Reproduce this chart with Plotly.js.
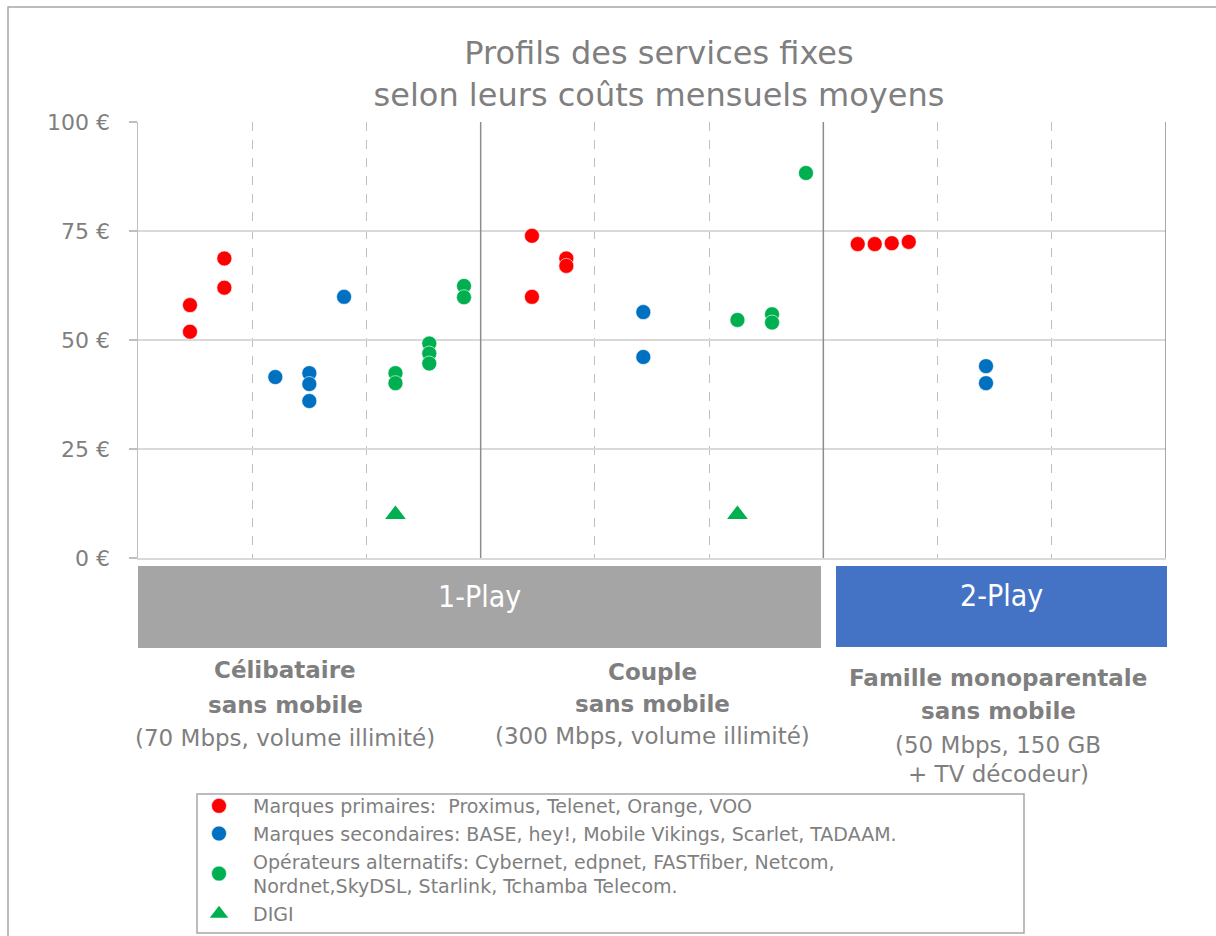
<!DOCTYPE html>
<html>
<head>
<meta charset="utf-8">
<script src="https://cdn.plot.ly/plotly-3.0.1.min.js"></script>
<style>
  html, body { margin: 0; padding: 0; background: #ffffff; }
  #chart { width: 1216px; height: 936px; }
</style>
</head>
<body>
<div id="chart"></div>
<script>
// ---- Data ----
// x = position within the 9 columns (3 per profile), y = monthly cost in €
const primX = [0.455, 0.455, 0.756, 0.756, 3.449, 3.449, 3.750, 3.750, 6.301, 6.450, 6.599, 6.748];
const primY = [58.0, 51.9, 68.7, 62.0, 73.9, 59.9, 68.7, 67.0, 72.0, 72.0, 72.2, 72.5];

const secX = [1.202, 1.500, 1.500, 1.500, 1.804, 4.424, 4.424, 7.424, 7.424];
const secY = [41.5, 42.4, 39.9, 36.0, 59.9, 56.4, 46.1, 44.0, 40.1];

const altX = [2.254, 2.254, 2.550, 2.550, 2.550, 2.854, 2.854, 5.248, 5.551, 5.551, 5.848];
const altY = [42.4, 40.1, 49.2, 46.9, 44.6, 62.4, 59.8, 54.6, 55.9, 54.0, 88.3];

const digiX = [2.254, 5.248];
const digiY = [10.0, 10.0];

const seriesNames = [
  "Marques primaires:  Proximus, Telenet, Orange, VOO",
  "Marques secondaires: BASE, hey!, Mobile Vikings, Scarlet, TADAAM.",
  "Opérateurs alternatifs: Cybernet, edpnet, FASTfiber, Netcom,<br>Nordnet,SkyDSL, Starlink, Tchamba Telecom.",
  "DIGI"
];

const yTickVals = [0, 25, 50, 75, 100];
const yTickText = ["0 €", "25 €", "50 €", "75 €", "100 €"];

const dashedCols = [1, 2, 4, 5, 7, 8];
const profileBounds = [3, 6, 9];

const playLabels = ["1-Play", "2-Play"];

const profileLabels = [
  ["<b>Célibataire</b>", "<b>sans mobile</b>", "(70 Mbps, volume illimité)"],
  ["<b>Couple</b>", "<b>sans mobile</b>", "(300 Mbps, volume illimité)"],
  ["<b>Famille monoparentale</b>", "<b>sans mobile</b>", "(50 Mbps, 150 GB", "+ TV décodeur)"]
];

const titleText = "Profils des services fixes<br>selon leurs coûts mensuels moyens";

// ---- Layout helpers (pixel -> paper) ----
const W = 1216, H = 936;
const L = 138, R = 1166, T = 122, B = 558;
const px = v => (v - L) / (R - L);
const py = v => (B - v) / (B - T);

const GREY_TXT = "#7f7f7f";
const FONT = "DejaVu Sans, Verdana, sans-serif";

const markerLine = { color: "#ffffff", width: 0.6 };

const traces = [
  { type: "scatter", mode: "markers", x: primX, y: primY, name: seriesNames[0],
    marker: { color: "#ff0000", size: 15, symbol: "circle", line: markerLine } },
  { type: "scatter", mode: "markers", x: secX, y: secY, name: seriesNames[1],
    marker: { color: "#0070c0", size: 15, symbol: "circle", line: markerLine } },
  { type: "scatter", mode: "markers", x: altX, y: altY, name: seriesNames[2],
    marker: { color: "#00b050", size: 15, symbol: "circle", line: markerLine } },
  { type: "scatter", mode: "markers", x: digiX, y: digiY, name: seriesNames[3],
    marker: { color: "#00b050", size: 18, symbol: "triangle-up", line: { width: 0 } } }
];

const shapes = [];
// outer frame
shapes.push({ type: "rect", xref: "paper", yref: "paper",
  x0: px(8), x1: px(1230), y0: py(950), y1: py(7),
  line: { color: "#a6a6a6", width: 1.5 }, fillcolor: "rgba(0,0,0,0)" });
// solid profile separators
profileBounds.forEach(b => shapes.push({ type: "line", xref: "x", yref: "paper",
  x0: b, x1: b, y0: 0, y1: 1, line: { color: "#8c8c8c", width: 1.5 } }));
// play bars
shapes.push({ type: "rect", xref: "paper", yref: "paper",
  x0: px(138), x1: px(821), y0: py(648), y1: py(566),
  line: { width: 0 }, fillcolor: "#a5a5a5" });
shapes.push({ type: "rect", xref: "paper", yref: "paper",
  x0: px(836), x1: px(1167), y0: py(647), y1: py(566),
  line: { width: 0 }, fillcolor: "#4472c4" });
// legend box
shapes.push({ type: "rect", xref: "paper", yref: "paper",
  x0: px(197), x1: px(1024), y0: py(933), y1: py(794),
  line: { color: "#a6a6a6", width: 1.5 }, fillcolor: "rgba(0,0,0,0)" });

const annotations = [];
annotations.push({ xref: "paper", yref: "paper", x: px(479), y: py(596), text: playLabels[0],
  showarrow: false, xanchor: "center", yanchor: "middle",
  font: { family: "DejaVu Sans Condensed, DejaVu Sans, sans-serif", size: 30, color: "#ffffff" } });
annotations.push({ xref: "paper", yref: "paper", x: px(1001), y: py(595), text: playLabels[1],
  showarrow: false, xanchor: "center", yanchor: "middle",
  font: { family: "DejaVu Sans Condensed, DejaVu Sans, sans-serif", size: 30, color: "#ffffff" } });

const labelCenters = [285, 652, 998];
const labelRows = [[670, 705, 738], [672, 704, 736], [678, 711, 745, 774]];
profileLabels.forEach((lines, i) => {
  lines.forEach((t, j) => {
    annotations.push({ xref: "paper", yref: "paper", x: px(labelCenters[i]), y: py(labelRows[i][j]),
      text: t, showarrow: false, xanchor: "center", yanchor: "middle",
      font: { family: FONT, size: 23, color: GREY_TXT } });
  });
});

const layout = {
  width: W, height: H,
  margin: { l: L, r: W - R, t: T, b: H - B, pad: 0, autoexpand: false },
  paper_bgcolor: "#ffffff", plot_bgcolor: "#ffffff",
  title: { text: titleText, x: px(659), xanchor: "center", xref: "paper",
    y: 1 - 64 / H, yanchor: "middle", yref: "container",
    font: { family: FONT, size: 32, color: GREY_TXT } },
  showlegend: true,
  legend: { x: px(185), y: py(787), xanchor: "left", yanchor: "top",
    bgcolor: "rgba(0,0,0,0)", borderwidth: 0, itemwidth: 58,
    font: { family: FONT, size: 19, color: GREY_TXT }, tracegroupgap: 0 },
  xaxis: { range: [0, 9], tickvals: dashedCols, showticklabels: false, ticks: "",
    showgrid: true, gridcolor: "#bfbfbf", griddash: "dash", gridwidth: 1,
    showline: true, linecolor: "#d9d9d9", linewidth: 2, zeroline: false, fixedrange: true },
  yaxis: { range: [0, 100], tickvals: yTickVals, ticktext: yTickText,
    ticks: "outside", ticklen: 8, tickcolor: "#bfbfbf", tickwidth: 1.5,
    showline: true, linecolor: "#bfbfbf", linewidth: 1.5,
    showgrid: true, gridcolor: "#d9d9d9", gridwidth: 1.5, zeroline: false,
    ticklabelstandoff: 14,
    tickfont: { family: FONT, size: 22, color: GREY_TXT }, fixedrange: true },
  shapes: shapes,
  annotations: annotations
};

Plotly.newPlot("chart", traces, layout, { displayModeBar: false, staticPlot: true });
</script>
</body>
</html>
